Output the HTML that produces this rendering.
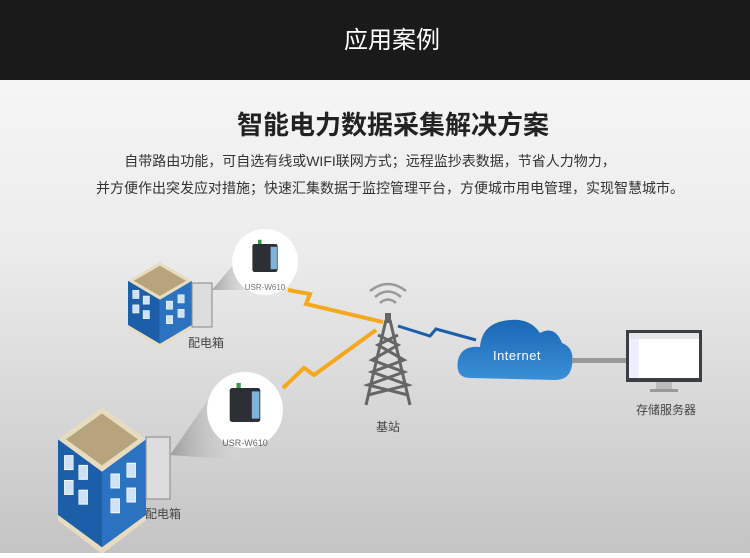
<!DOCTYPE html>
<html><head><meta charset="utf-8"><style>
body{margin:0;width:750px;height:553px;overflow:hidden;font-family:"Liberation Sans","Noto Sans CJK SC",sans-serif}
</style></head><body>
<svg width="750" height="553" viewBox="0 0 750 553" xmlns="http://www.w3.org/2000/svg" font-family="Liberation Sans, Noto Sans CJK SC, sans-serif">
<defs>
<linearGradient id="bg" x1="0" y1="0" x2="0" y2="1">
<stop offset="0" stop-color="#fafafa"/><stop offset="0.45" stop-color="#ececec"/><stop offset="1" stop-color="#c4c4c4"/></linearGradient>
<linearGradient id="cl" x1="0" y1="0" x2="0" y2="1"><stop offset="0" stop-color="#1b67b5"/><stop offset="1" stop-color="#3a8fd8"/></linearGradient>
<linearGradient id="cone" x1="0" y1="0" x2="1" y2="0"><stop offset="0" stop-color="#888" stop-opacity="0.7"/><stop offset="1" stop-color="#ddd" stop-opacity="0.2"/></linearGradient>
<g id="bld">
<polygon points="0,30 55,0 110,30 55,60" fill="#e8dcc0"/>
<polygon points="10,30 55,6 100,30 55,54" fill="#b8a47c"/>
<polygon points="0,30 55,60 55,130 0,100" fill="#1d5ea8"/>
<polygon points="55,60 110,30 110,100 55,130" fill="#2b73c0"/>
<polygon points="0,100 55,130 110,100 110,105 55,136 0,105" fill="#e8dcc0"/>
<g fill="#cfe2f5" stroke="#fff" stroke-width="0.8">
<rect x="8" y="45" width="11" height="13"/><rect x="26" y="54" width="11" height="13"/>
<rect x="8" y="68" width="11" height="13"/><rect x="26" y="77" width="11" height="13"/>
<rect x="66" y="62" width="11" height="13"/><rect x="86" y="52" width="11" height="13"/>
<rect x="66" y="85" width="11" height="13"/><rect x="86" y="75" width="11" height="13"/>
</g>
</g>
<g id="dev">
<rect x="-18" y="-20" width="36" height="40" rx="3" fill="#2c2f34"/>
<rect x="8" y="-16" width="9" height="32" fill="#7fb3d8"/>
<rect x="-10" y="-26" width="5" height="6" fill="#3a9a4a"/>
</g>
</defs>
<rect width="750" height="553" fill="url(#bg)"/>
<rect width="750" height="80" fill="#1a1a1a"/>
<text x="392" y="48" text-anchor="middle" fill="#fff" font-size="24">应用案例</text>
<text x="393" y="134" text-anchor="middle" fill="#222" font-size="26" font-weight="bold">智能电力数据采集解决方案</text>
<text x="370" y="166" text-anchor="middle" fill="#333" font-size="14">自带路由功能，可自选有线或WIFI联网方式；远程监抄表数据，节省人力物力，</text>
<text x="390" y="193" text-anchor="middle" fill="#333" font-size="14">并方便作出突发应对措施；快速汇集数据于监控管理平台，方便城市用电管理，实现智慧城市。</text>

<polyline points="288,290 310,294 306,304 383,322" fill="none" stroke="#f5a81c" stroke-width="4"/>
<polyline points="283,388 304,368 314,375 376,330" fill="none" stroke="#f5a81c" stroke-width="4"/>
<polyline points="398,326 430,336 436,329 476,340" fill="none" stroke="#1d5ea8" stroke-width="3"/>

<g transform="translate(128,262) scale(0.58,0.63)"><use href="#bld"/></g>
<rect x="192" y="283" width="20" height="44" fill="#ddd" stroke="#888"/>
<polygon points="212,290 250,245 255,290" fill="url(#cone)"/>
<circle cx="265" cy="262" r="33" fill="#fff"/>
<use href="#dev" transform="translate(265,258) scale(0.7)"/>
<text x="265" y="290" text-anchor="middle" fill="#777" font-size="8">USR-W610</text>
<text x="188" y="347" fill="#444" font-size="12">配电箱</text>

<g transform="translate(58,407) scale(0.8,1.08)"><use href="#bld"/></g>
<rect x="146" y="437" width="24" height="62" fill="#ddd" stroke="#888"/>
<polygon points="170,455 215,390 240,460" fill="url(#cone)"/>
<circle cx="245" cy="410" r="38" fill="#fff"/>
<use href="#dev" transform="translate(245,405) scale(0.85)"/>
<text x="245" y="446" text-anchor="middle" fill="#666" font-size="9">USR-W610</text>
<text x="145" y="518" fill="#444" font-size="12">配电箱</text>

<g stroke="#666" fill="none" stroke-width="3">
<line x1="386" y1="320" x2="366" y2="405"/><line x1="390" y1="320" x2="410" y2="405"/>
<polyline points="378,335 398,345 372,360 404,372 368,385 408,395"/>
<polyline points="398,335 378,345 404,360 372,372 408,385 368,395"/>
</g>
<rect x="385" y="313" width="6" height="10" fill="#666"/>
<g fill="none" stroke="#999" stroke-width="2.5">
<path d="M380,303 Q388,296 396,303"/><path d="M375,297 Q388,286 401,297"/><path d="M370,291 Q388,277 406,291"/>
</g>
<text x="388" y="431" text-anchor="middle" fill="#444" font-size="12">基站</text>

<path d="M470,378 Q455,378 458,360 Q462,345 480,347 Q482,322 510,320 Q530,318 540,333 Q555,325 562,343 Q575,348 572,365 Q570,380 555,380 Z" fill="url(#cl)"/>
<text x="517" y="360" text-anchor="middle" fill="#fff" font-size="13" letter-spacing="0.5">Internet</text>
<rect x="572" y="358" width="54" height="5" fill="#999"/>
<rect x="626" y="330" width="76" height="52" fill="#3a3f46"/>
<rect x="629" y="333" width="70" height="45" fill="#fff"/>
<rect x="629" y="333" width="70" height="6" fill="#e6e6e6"/>
<rect x="629" y="339" width="10" height="39" fill="#eef"/>
<rect x="656" y="382" width="16" height="8" fill="#bbb"/>
<rect x="650" y="389" width="28" height="3" fill="#999"/>
<text x="666" y="414" text-anchor="middle" fill="#444" font-size="12">存储服务器</text>
</svg>
</body></html>
